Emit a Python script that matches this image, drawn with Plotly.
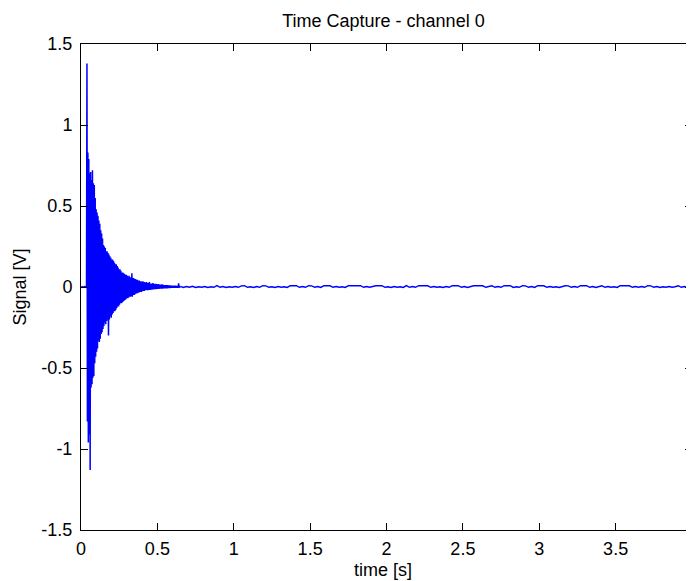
import plotly.graph_objects as go

# capture settings (sampling of the two segments)
t_start = 0.0
dt_burst = 0.003
t_tail = 0.65
dt_tail = 0.02

# burst part of the capture (V)
burst = [
    0.0, 0.002, -0.001, 0.001, -0.002, 0.001, 0.0, -0.001, 0.002, -0.001,
    0.001, 0.0, -0.002, 1.38, -0.83, 0.83, -0.96, 0.79, -0.91, 0.70,
    -1.13, 0.71, -0.62, 0.66, -0.60, 0.72, -0.56, 0.64, -0.55, 0.63,
    -0.47, 0.55, -0.43, 0.48, -0.40, 0.46, -0.38, 0.44, -0.33, 0.41,
    -0.34, 0.39, -0.32, 0.35, -0.29, 0.33, -0.28, 0.30, -0.26, 0.26,
    -0.24, 0.25, -0.22, 0.24, -0.23, 0.22, -0.21, 0.22, -0.20, 0.21,
    -0.30, 0.20, -0.20, 0.19, -0.18, 0.18, -0.19, 0.17, -0.17, 0.17,
    -0.16, 0.16, -0.15, 0.15, -0.15, 0.14, -0.14, 0.14, -0.13, 0.13,
    -0.12, 0.12, -0.12, 0.11, -0.11, 0.11, -0.10, 0.10, -0.10, 0.09,
    -0.095, 0.09, -0.09, 0.085, -0.085, 0.08, -0.08, 0.075, -0.075, 0.075,
    -0.07, 0.07, -0.07, 0.065, -0.065, 0.07, -0.06, 0.06, -0.06, 0.06,
    -0.055, 0.085, -0.06, 0.055, -0.05, 0.055, -0.05, 0.05, -0.045, 0.05,
    -0.04, 0.045, -0.04, 0.045, -0.035, 0.04, -0.035, 0.04, -0.03, 0.035,
    -0.03, 0.035, -0.03, 0.03, -0.025, 0.035, -0.025, 0.03, -0.025, 0.03,
    -0.02, 0.025, -0.02, 0.03, -0.02, 0.025, -0.02, 0.025, -0.018, 0.03,
    -0.018, 0.022, -0.016, 0.022, -0.016, 0.02, -0.015, 0.025, -0.015, 0.02,
    -0.014, 0.018, -0.014, 0.02, -0.013, 0.018, -0.012, 0.016, -0.012, 0.018,
    -0.012, 0.015, -0.011, 0.015, -0.01, 0.014, -0.01, 0.016, -0.01, 0.013,
    -0.009, 0.012, -0.009, 0.012, -0.008, 0.012, -0.008, 0.011, -0.008, 0.011,
    -0.007, 0.01, -0.007, 0.01, -0.007, 0.01, -0.006, 0.009, -0.006, 0.009,
    -0.006, 0.008, -0.006, 0.008, -0.005, 0.008, -0.005, 0.008, -0.005, 0.007,
    -0.005, 0.007, -0.005, 0.022, -0.005, 0.007, -0.004,
]

# rest of the capture, almost flat (V)
tail = [
    0.004, -0.003, 0.003, -0.002, 0.005, -0.003, 0.002, -0.002, 0.003, -0.003,
    0.002, -0.002, 0.008, -0.002, 0.003, -0.003, 0.002, -0.002, 0.003, -0.002,
    0.007, 0.008, -0.002, 0.002, -0.003, 0.003, -0.002, 0.008, 0.007, -0.002,
    0.002, -0.003, 0.003, -0.002, 0.002, -0.003, 0.008, 0.007, 0.008, -0.002,
    0.003, -0.002, 0.008, 0.007, -0.002, 0.003, -0.003, 0.008, 0.008, 0.007,
    -0.002, 0.003, -0.002, 0.002, -0.003, 0.008, 0.007, 0.008, 0.007, 0.008,
    -0.002, 0.003, -0.002, 0.003, 0.008, 0.007, 0.008, -0.002, 0.002, -0.003,
    0.003, -0.002, 0.002, -0.003, 0.008, -0.002, 0.003, -0.002, 0.008, 0.007,
    0.008, 0.007, -0.002, 0.003, -0.002, 0.002, -0.003, 0.003, -0.002, 0.008,
    0.007, 0.008, -0.002, 0.003, -0.003, 0.002, 0.008, 0.007, 0.008, 0.007,
    -0.002, 0.003, 0.008, -0.002, 0.003, -0.002, 0.008, 0.007, 0.008, -0.003,
    0.002, -0.002, 0.008, 0.007, -0.002, 0.003, -0.003, 0.008, 0.008, 0.007,
    -0.002, 0.003, -0.002, 0.002, -0.003, 0.003, 0.008, 0.007, -0.002, 0.003,
    -0.002, 0.008, 0.007, 0.008, -0.002, 0.003, -0.003, 0.002, 0.008, -0.002,
    0.003, -0.002, 0.002, -0.003, 0.008, 0.007, 0.008, 0.007, -0.002, 0.003,
    -0.002, 0.003, -0.002, 0.008, 0.007, -0.002, 0.003, -0.003, 0.002, -0.002,
    0.003, -0.002, 0.002, 0.008, -0.002, 0.003, -0.002, 0.002, -0.003, 0.003,
]

x_ticks = [0, 0.5, 1, 1.5, 2, 2.5, 3, 3.5, 4]
x_labels = ["0", "0.5", "1", "1.5", "2", "2.5", "3", "3.5", "4"]
y_ticks = [-1.5, -1, -0.5, 0, 0.5, 1, 1.5]
y_labels = ["-1.5", "-1", "-0.5", "0", "0.5", "1", "1.5"]

FONT = "Liberation Sans, Arial, sans-serif"
BLUE = "#0000ff"

fig = go.Figure()
fig.add_trace(go.Scatter(y=burst, x0=t_start, dx=dt_burst, mode="lines",
                         line=dict(color=BLUE, width=1.5), showlegend=False))
fig.add_trace(go.Scatter(y=tail, x0=t_tail, dx=dt_tail, mode="lines",
                         line=dict(color=BLUE, width=1.5), showlegend=False))

# the page body has an 8px margin, so the plot box is placed 8px up/left;
# the figure is a little wider than the window, like the clipped original
fig.update_layout(
    width=700, height=581,
    margin=dict(l=73, r=11, t=36, b=59),
    paper_bgcolor="white", plot_bgcolor="white",
    font=dict(family=FONT, size=18, color="black"),
    title=dict(text="Time Capture - channel 0", x=0.495, xref="paper",
               y=1 - 13 / 581, yref="container", yanchor="middle",
               font=dict(size=18, color="black")),
    xaxis=dict(range=[0, 4], tickvals=x_ticks, ticktext=x_labels,
               ticks="inside", ticklen=7, tickcolor="black", showgrid=False,
               zeroline=False, showline=True, linecolor="black", linewidth=1,
               mirror="ticks", ticklabelstandoff=2),
    yaxis=dict(range=[-1.5, 1.5], tickvals=y_ticks, ticktext=y_labels,
               ticks="inside", ticklen=7, tickcolor="black", showgrid=False,
               zeroline=False, showline=True, linecolor="black", linewidth=1,
               mirror="ticks", ticklabelstandoff=4),
    annotations=[
        dict(text="time [s]", x=0.495, y=-40 / 486, xref="paper", yref="paper",
             showarrow=False, xanchor="center", yanchor="middle"),
        dict(text="Signal [V]", x=-61 / 616, y=0.5, xref="paper", yref="paper",
             showarrow=False, textangle=-90, xanchor="center", yanchor="middle"),
    ],
)

fig.write_html("out.html")
